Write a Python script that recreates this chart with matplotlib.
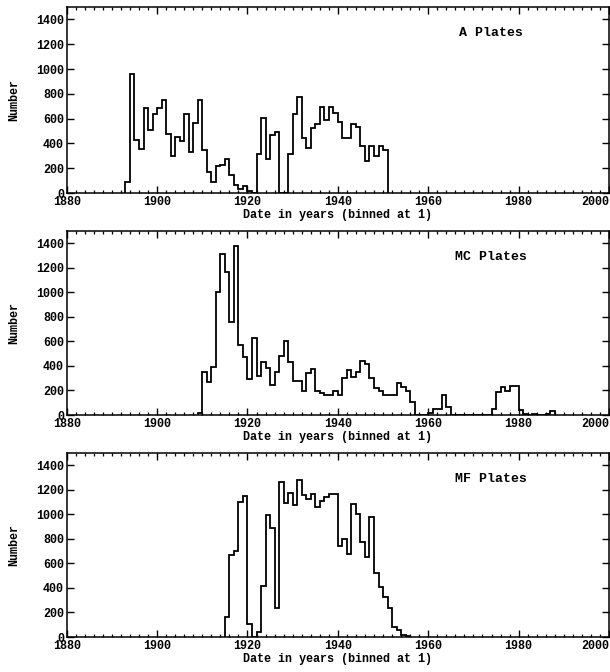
import numpy as np
import matplotlib
matplotlib.use("Agg")
import matplotlib.pyplot as plt
from matplotlib.ticker import MultipleLocator

# ---------------- data (counts per 1-year bin) ----------------
a_start = 1893
a_counts = [92, 960, 425, 355, 683, 512, 635, 683, 751, 472, 301, 450, 423, 635,
            331, 567, 751, 350, 173, 92, 214, 228, 274, 146, 65, 30, 57, 16, 0,
            317, 608, 274, 464, 491, 0, 0, 317, 635, 778, 445, 363, 526, 559,
            697, 586, 697, 648, 572, 445, 445, 553, 534, 382, 255, 382, 300,
            380, 350]

mc_start = 1909
mc_counts = [19, 352, 271, 393, 1003, 1310, 1166, 759, 1378, 570, 475, 293, 624,
             320, 434, 380, 244, 352, 480, 602, 434, 279, 279, 195, 339, 374,
             195, 182, 163, 163, 195, 163, 298, 366, 312, 352, 442, 415, 298,
             217, 195, 163, 163, 163, 263, 230, 195, 103, 0, 0, 0, 16, 46, 46,
             163, 62, 0, 0, 0, 0, 0, 0, 0, 0, 0, 46, 190, 230, 198, 236, 236,
             41, 8, 0, 8, 4, 4, 10, 35]

mf_start = 1915
mf_counts = [165, 667, 700, 1101, 1147, 106, 0, 41, 418, 993, 892, 233, 1264,
             1096, 1174, 1074, 1277, 1155, 1128, 1163, 1060, 1109, 1141, 1163,
             1163, 740, 795, 675, 1088, 1006, 775, 653, 979, 518, 404, 323, 233,
             84, 60, 20, 5]

panel_titles = ["A Plates", "MC Plates", "MF Plates"]
x_label = "Date in years (binned at 1)"
y_label = "Number"
x_ticks = [1880, 1900, 1920, 1940, 1960, 1980, 2000]
y_ticks = [0, 200, 400, 600, 800, 1000, 1200, 1400]

series = [(a_start, a_counts), (mc_start, mc_counts), (mf_start, mf_counts)]

# ---------------- figure ----------------
W, H = 610, 672
fig = plt.figure(figsize=(W / 100, H / 100), dpi=100)
fig.patch.set_facecolor("white")

fam = ["Liberation Mono", "DejaVu Sans Mono"]
font = dict(family=fam, weight="bold")

left = 66.7 / W
width = (609 - 66.7) / W
panels_px = [(7, 193), (231, 415), (453, 637)]

for (top_px, bot_px), (start, counts), title in zip(panels_px, series, panel_titles):
    ax = fig.add_axes([left, 1 - bot_px / H, width, (bot_px - top_px) / H])
    counts = np.asarray(counts, dtype=float)
    edges = np.arange(start, start + len(counts) + 1)
    ax.stairs(counts, edges, baseline=0, color="black", linewidth=1.3)

    ax.set_xlim(1880, 2000)
    ax.set_ylim(0, 1500)
    ax.set_xticks(x_ticks)
    ax.set_xticklabels([str(t) for t in x_ticks])
    ax.xaxis.set_minor_locator(MultipleLocator(2))
    ax.set_yticks(y_ticks)
    ax.set_yticklabels([str(t) for t in y_ticks])

    ax.tick_params(axis="both", which="major", direction="in", length=5,
                   width=1.0, top=True, right=True, pad=2, labelsize=8.5)
    ax.tick_params(axis="x", which="minor", direction="in", length=2.5,
                   width=0.9, top=True, bottom=True)
    ax.tick_params(axis="y", which="minor", left=False, right=False)
    xl = ax.get_xticklabels()
    for lab in xl + ax.get_yticklabels():
        lab.set_fontfamily(fam)
        lab.set_fontweight("bold")
    xl[-1].set_horizontalalignment("right")
    for sp in ax.spines.values():
        sp.set_linewidth(1.1)

    ax.set_xlabel(x_label, fontsize=8.5, labelpad=1, **font)
    ax.set_ylabel(y_label, fontsize=8.5, labelpad=11, **font)
    ax.text(0.782, 0.86, title, transform=ax.transAxes, ha="center",
            va="center", fontsize=9.5, **font)

fig.savefig("out.png", dpi=100, facecolor="white")
